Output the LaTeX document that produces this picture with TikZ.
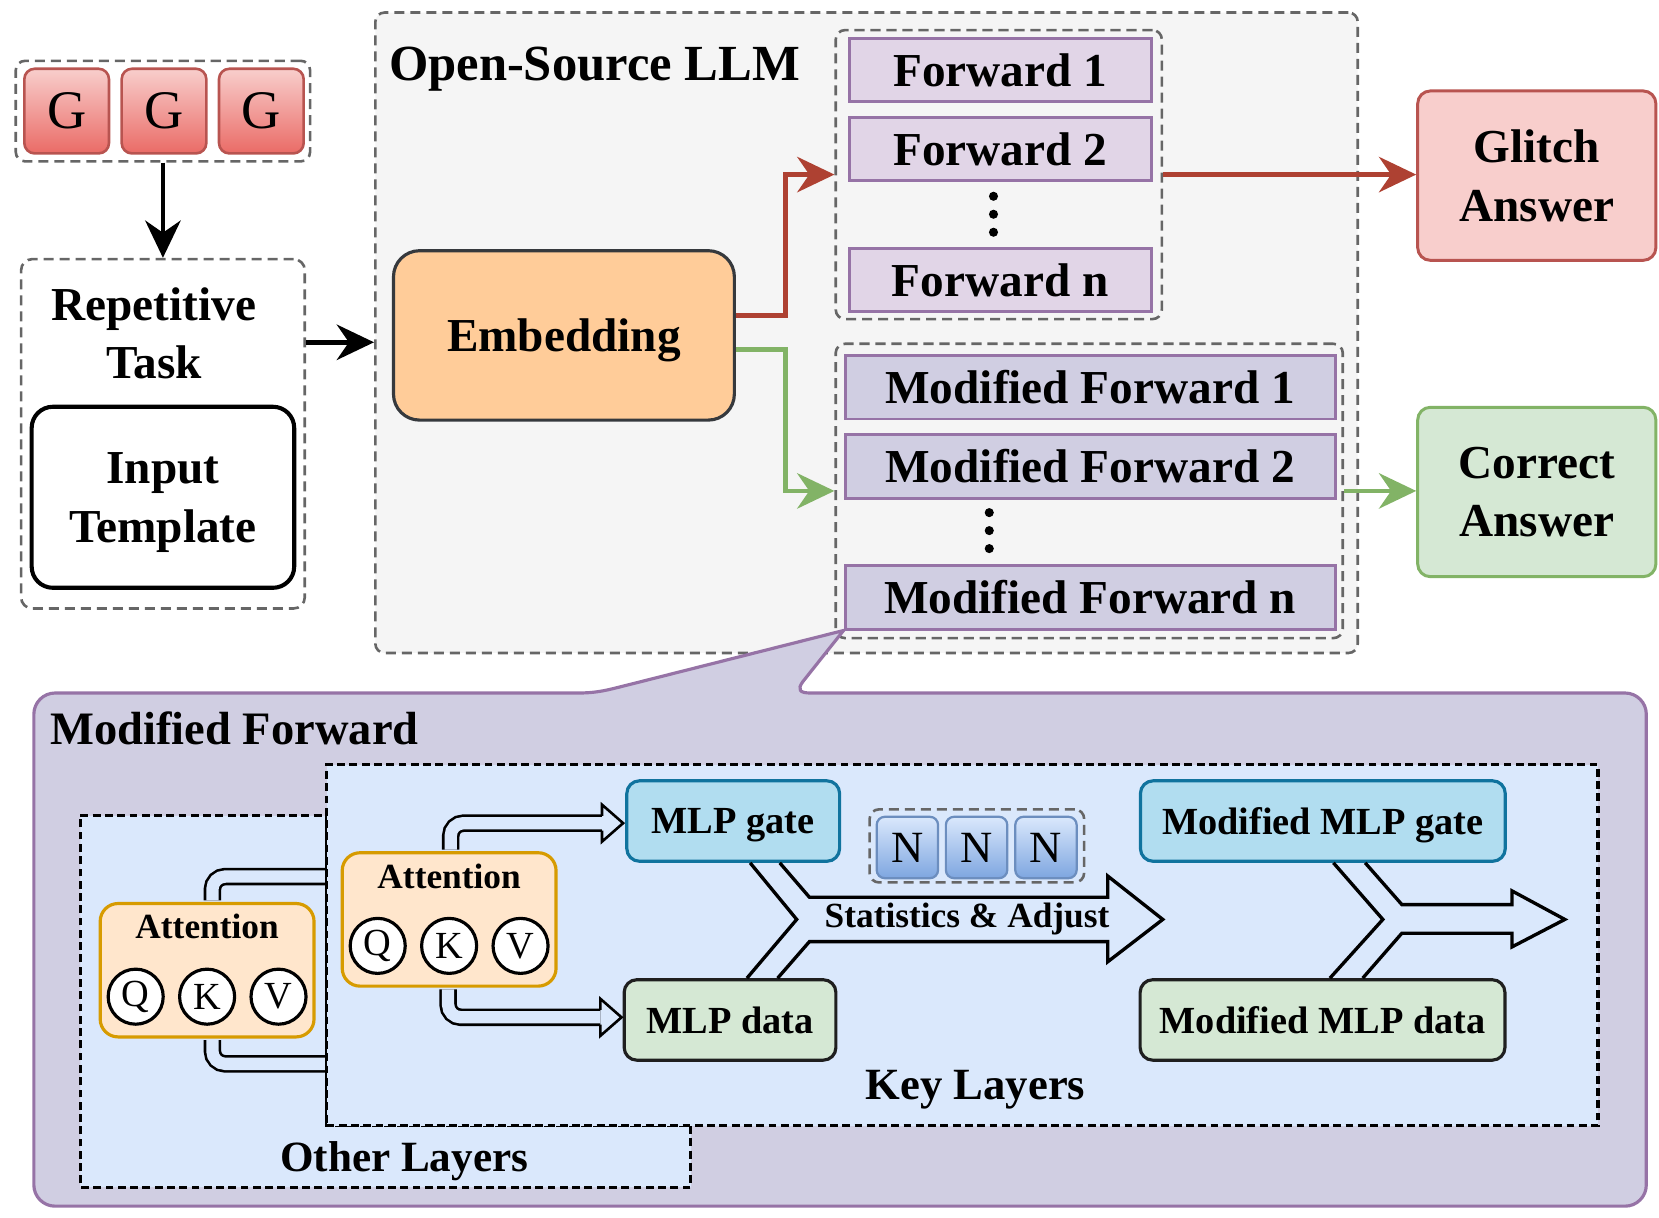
\documentclass[tikz,border=0pt]{standalone}
\usepackage{fontspec}
\setmainfont{Liberation Serif}
\usetikzlibrary{arrows.meta,calc}

\definecolor{dgray}{HTML}{666666}
\definecolor{llmfill}{HTML}{F5F5F5}
\definecolor{gtop}{HTML}{F8CECC}
\definecolor{gbot}{HTML}{EA6B66}
\definecolor{gline}{HTML}{B85450}
\definecolor{embfill}{HTML}{FFCC99}
\definecolor{embline}{HTML}{36393D}
\definecolor{fwdfill}{HTML}{E1D5E7}
\definecolor{fwdline}{HTML}{9673A6}
\definecolor{mfwdfill}{HTML}{D0CEE2}
\definecolor{glitchfill}{HTML}{F8CECC}
\definecolor{okfill}{HTML}{D5E8D4}
\definecolor{okline}{HTML}{82B366}
\definecolor{redline}{HTML}{AE4132}
\definecolor{layerfill}{HTML}{DAE8FC}
\definecolor{attfill}{HTML}{FFE6CC}
\definecolor{attline}{HTML}{D79B00}
\definecolor{gatefill}{HTML}{B1DDF0}
\definecolor{gateline}{HTML}{10739E}
\definecolor{ntop}{HTML}{DAE8FC}
\definecolor{nbot}{HTML}{7EA6E0}
\definecolor{nline}{HTML}{6C8EBF}

\newcommand\fbig{\fontsize{12.7}{15.8}\selectfont\bfseries}
\newcommand\fhead{\fontsize{13.6}{16}\selectfont\bfseries}
\newcommand\fmid{\fontsize{10.3}{12}\selectfont\bfseries}
\newcommand\fsmall{\fontsize{9.5}{11}\selectfont\bfseries}

\begin{document}
\begin{tikzpicture}[
  x=0.01cm,
  y=-0.01cm,
  >={Stealth[length=10pt,width=9.5pt]},
  plain/.style={
    inner sep=0pt
  },
  grp/.style={
    draw=dgray,
    line width=0.7pt,
    dash pattern=on 2.7pt off 1.6pt,
    rounded corners=2.5pt
  },
  layer/.style={
    draw=black,
    fill=layerfill,
    line width=0.85pt,
    dash pattern=on 2.1pt off 1.2pt
  },
  gbox/.style={
    draw=gline,
    top color=gtop,
    bottom color=gbot,
    line width=0.7pt,
    rounded corners=2.8pt,
    minimum width=0.8cm,
    minimum height=0.8cm,
    inner sep=0pt,
    font=\fontsize{14.6}{16}\selectfont
  },
  nbox/.style={
    draw=nline,
    top color=ntop,
    bottom color=nbot,
    line width=0.6pt,
    rounded corners=2.2pt,
    minimum width=0.58cm,
    minimum height=0.58cm,
    inner sep=0pt,
    font=\fontsize{12}{13}\selectfont
  },
  fwd/.style={
    draw=fwdline,
    fill=fwdfill,
    line width=0.8pt,
    minimum width=2.854cm,
    minimum height=0.6cm,
    inner sep=0pt,
    font=\fbig
  },
  mfwd/.style={
    fwd,
    fill=mfwdfill,
    minimum width=4.63cm
  },
  ans/.style={
    line width=0.8pt,
    rounded corners=3.4pt,
    minimum width=2.25cm,
    minimum height=1.6cm,
    align=center,
    font=\fbig
  },
  att/.style={
    draw=attline,
    fill=attfill,
    line width=0.85pt,
    rounded corners=4.8pt,
    minimum width=2.02cm,
    minimum height=1.26cm
  },
  qkv/.style={
    circle,
    draw,
    fill=white,
    line width=0.85pt,
    minimum size=0.52cm,
    inner sep=0pt,
    font=\fontsize{10.3}{12}\selectfont
  },
  mlp/.style={
    line width=0.85pt,
    rounded corners=3.4pt,
    minimum height=0.76cm,
    inner sep=0pt,
    text depth=0pt,
    font=\fmid
  },
  arr/.style={
    ->,
    line width=1.3pt
  },
  dbl/.style={
    double=layerfill,
    double distance=0.116cm,
    line width=0.7pt,
    rounded corners=0.12cm
  },
  flexhead/.style={
    line width=0.7pt
  },
  bigflex/.style={
    line width=0.9pt
  }
]

\useasboundingbox (0,0) rectangle (1568,1151);

% Input side
\node[grp, minimum width=2.78cm, minimum height=0.95cm] (ggrp) at (154,105) {};
\foreach \x [count=\i] in {63,155,247}
  \node[gbox] (g\i) at (\x,105) {G};
\node[grp, rounded corners=3pt, minimum width=2.68cm, minimum height=3.3cm] (rep) at (154,410) {};
\node[plain, align=center, font=\fbig] (reptxt) at (145.5,315) {Repetitive\\Task};
\node[draw, fill=white, line width=1.1pt, rounded corners=5.7pt, minimum width=2.48cm,
  minimum height=1.71cm, align=center, text depth=0pt, font=\fbig] (tmpl) at (154,470) {Input\\Template};

% LLM
\node[grp, fill=llmfill, minimum width=9.28cm, minimum height=6.05cm] (llm) at (819,314.5) {};
\node[plain, anchor=west, text depth=0pt, font=\fhead] (llmtxt) at (367,60) {Open-Source LLM};
\node[draw=embline, fill=embfill, line width=0.85pt, rounded corners=7pt, minimum width=3.22cm,
  minimum height=1.6cm, text depth=0pt, font=\fbig] (emb) at (533,317) {Embedding};

\node[grp, minimum width=3.08cm, minimum height=2.73cm] (fwgrp) at (944,165) {};
\node[fwd] (fw1) at (945.3,66.3) {Forward 1};
\node[fwd] (fw2) at (945.3,141) {Forward 2};
\node[fwd] (fwn) at (945.3,264.5) {Forward n};
\foreach \y in {185.5,202.5,219.5}
  \fill (939,\y) circle (4.3);

\node[grp, minimum width=4.79cm, minimum height=2.78cm] (mfgrp) at (1029.5,464) {};
\node[mfwd] (mf1) at (1030.3,366) {Modified Forward 1};
\node[mfwd] (mf2) at (1030.3,440.8) {Modified Forward 2};
\node[mfwd] (mfn) at (1030.3,564.5) {Modified Forward n};
\foreach \y in {484.5,501.5,518.5}
  \fill (935,\y) circle (4.3);

% Answers
\node[ans, draw=gline, fill=glitchfill] (glitch) at (1452.5,166) {Glitch\\Answer};
\node[ans, draw=okline, fill=okfill] (correct) at (1452.5,465) {Correct\\Answer};

% Arrows
\draw[arr] (ggrp.south) -- (rep.north);
\coordinate (repout) at ($(rep.north east)!0.24!(rep.south east)$);
\draw[arr] (repout) -- (repout -| llm.west);
\draw[arr, redline] ($(emb.east)+(0,-19)$) -- ++(47,0) |- (fwgrp.west);
\draw[arr, redline] (fwgrp.east |- fwgrp.west) -- (fwgrp.west -| glitch.west);
\draw[arr, okline] ($(emb.east)+(0,13)$) -- ++(47,0) |- (mfgrp.west);
\draw[arr, okline] (mfgrp.east) -- (mfgrp.east -| correct.west);

% Callout
\draw[draw=fwdline, fill=mfwdfill, line width=0.85pt]
  (32,900) -- (32,675) .. controls (32,664) and (41,655) .. (52,655)
  -- (546,655) .. controls (562,655) and (571,653) .. (585,649.5)
  -- (mfn.south west)
  -- (759,644) .. controls (753,652) and (756,655) .. (766,655)
  -- (1536,655) .. controls (1547,655) and (1556,664) .. (1556,675)
  -- (1556,1120) .. controls (1556,1131) and (1547,1140) .. (1536,1140)
  -- (52,1140) .. controls (41,1140) and (32,1131) .. (32,1120) -- cycle;
\node[plain, anchor=west, font=\fontsize{12.5}{15}\selectfont\bfseries] (mftxt) at (47,688) {Modified Forward};

% Layers
\draw[layer] (76,771) -- (309,771) -- (309,1064) -- (653,1064) -- (653,1122) -- (76,1122) -- cycle;
\node[layer, minimum width=12.01cm, minimum height=3.41cm, inner sep=0pt] (key) at (909.5,893.5) {};
\node[plain, text depth=0pt, font=\fontsize{12}{14}\selectfont\bfseries] (keytxt) at (922,1025.5) {Key Layers};
\node[plain, text depth=0pt, font=\fontsize{11.6}{13}\selectfont\bfseries] (othertxt) at (382,1093) {Other Layers};

% Attention blocks
\node[att] (att1) at (195.75,917) {};
\node[att] (att2) at (424.5,869) {};
\foreach \a in {att1,att2} {
  \node[plain, font=\fsmall] (\a-t) at ($(\a.center)+(0,-41)$) {Attention};
  \foreach \l/\dx in {Q/-67.5,K/0,V/67.5}
    \node[qkv] (\a-\l) at ($(\a.center)+(\dx,25)$) {\l};
}

% MLP
\node[mlp, draw=gateline, fill=gatefill, minimum width=2.01cm] (gate) at (693,776) {MLP gate};
\node[mlp, draw=black!88, fill=okfill, minimum width=2cm] (mdata) at (690,964) {MLP data};
\node[mlp, draw=gateline, fill=gatefill, minimum width=3.446cm] (mgate) at (1250.3,776) {Modified MLP gate};
\node[mlp, draw=black!88, fill=okfill, minimum width=3.446cm] (mmdata) at (1250,964) {Modified MLP data};

\node[grp, minimum width=2.026cm, minimum height=0.69cm] (ngrp) at (923.3,799.5) {};
\foreach \x [count=\i] in {857.6,923,988.6}
  \node[nbox] (n\i) at (\x,801) {N};

% Double lines
\draw[dbl] ($(att1.north)+(5,-1.5)$) |- (key.west |- 0,828.5);
\draw[dbl] ($(att1.south)+(5,1.5)$) |- (key.west |- 0,1005.5);
\coordinate (gin) at ($(gate.west)+(-22,2)$);
\coordinate (din) at ($(mdata.west)+(-21,-2.5)$);
\draw[dbl] ($(att2.north)+(1.5,-1.5)$) |- (gin);
\draw[dbl] ($(att2.south)+(-1,1.5)$) |- (din);
\foreach \h in {gin,din}
  \draw[flexhead] (\h) ++(0,-7) -- ++(0,-10.5) -- ++(20,17.5) -- ++(-20,17.5) -- ++(0,-10.5);

% Merge arrows
\draw[bigflex] ($(gate.south)+(16,0)$) -- (753,869) -- ($(mdata.north)+(16,0)$);
\draw[bigflex] ($(gate.south)+(44,0)$) -- (765,848) -- (1047,848) -- (1047,828) -- (1099,869)
  -- (1047,909) -- (1047,890) -- (765,890) -- ($(mdata.north)+(45,0)$);
\node[plain, font=\fsmall] (stats) at (914,869) {Statistics \& Adjust};

\draw[bigflex] ($(mgate.south)+(10,0)$) -- (1307,869) -- ($(mmdata.north)+(7,0)$);
\draw[bigflex] ($(mgate.south)+(40,0)$) -- (1325,855) -- (1429,855) -- (1429,842) -- (1479,869)
  -- (1429,895) -- (1429,882) -- (1325,882) -- ($(mmdata.north)+(38,0)$);

\end{tikzpicture}
\end{document}
